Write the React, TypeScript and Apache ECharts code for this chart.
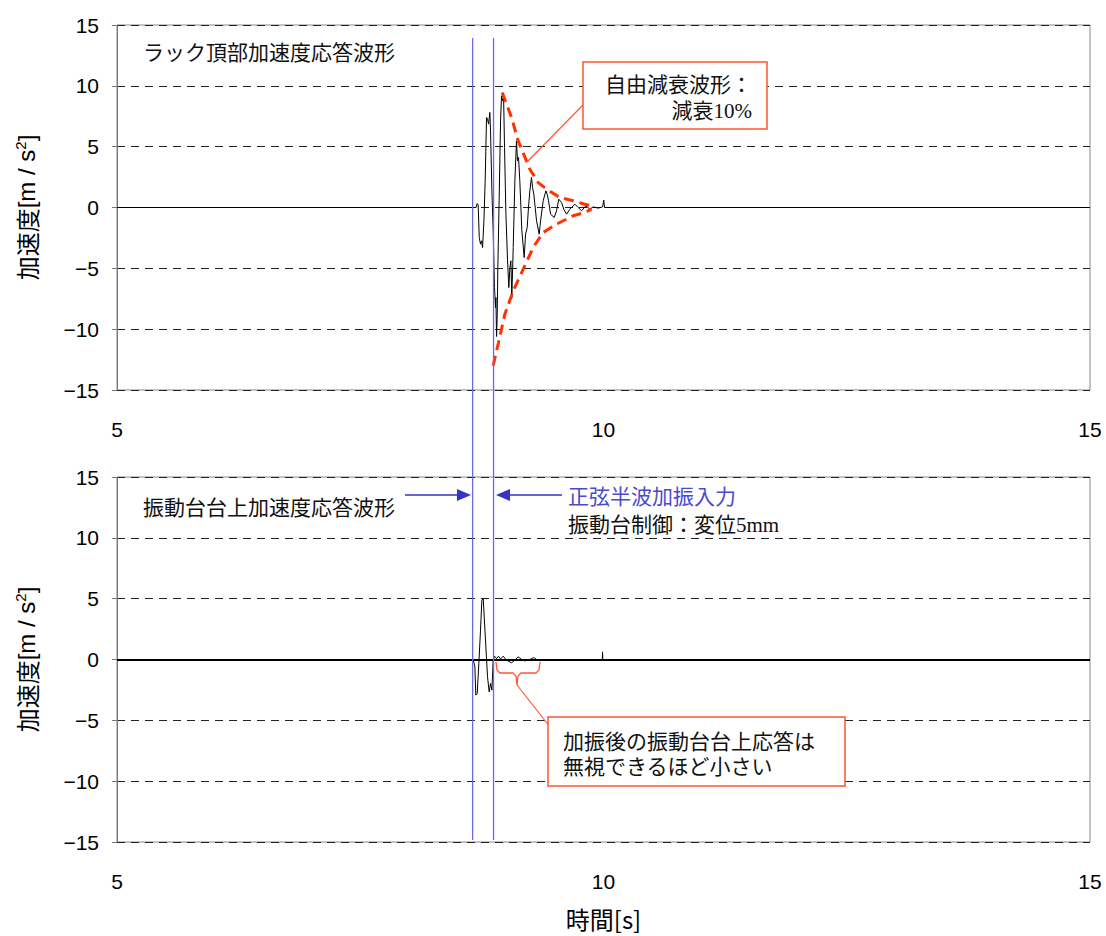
import React, { useEffect, useRef } from "react";
import * as echarts from "echarts";

// ---- data (time [s], acceleration [m/s^2]) ----
const xTicks = [5, 10, 15];
const yTicks = [-15, -10, -5, 0, 5, 10, 15];

const topWave: number[][] = [
  [5, 0], [8.69, 0], [8.702, 0.33], [8.712, 0.22], [8.723, -2.47], [8.736, -3.01], [8.747, -2.74],
  [8.757, -3.29], [8.771, -1.1], [8.784, 2.19], [8.798, 7.4], [8.808, 7.26], [8.819, 6.85],
  [8.832, 7.81], [8.839, 6.3], [8.853, 1.37], [8.866, -1.92], [8.88, -6.58], [8.89, -8.22],
  [8.894, -7.4], [8.901, -10.6], [8.908, -8.77], [8.914, -4.93], [8.928, 0.82], [8.942, 7.12],
  [8.952, 9.18], [8.962, 8.77], [8.973, 9.18], [8.983, 4.93], [8.997, -0.55], [9.014, -4.38],
  [9.027, -6.58], [9.038, -4.93], [9.048, -4.38], [9.058, -7.4], [9.072, -3.29], [9.089, 2.19],
  [9.106, 5.48], [9.116, 3.84], [9.127, 4.11], [9.14, 2.19], [9.161, -1.92], [9.185, -4.11],
  [9.199, -2.19], [9.216, -1.64], [9.229, 0], [9.243, 1.37], [9.26, 2.47], [9.271, 1.64],
  [9.284, 1.1], [9.312, -1.1], [9.339, -2.19], [9.353, -1.1], [9.38, 0.55], [9.408, 1.37],
  [9.421, 1.1], [9.435, 0.55], [9.456, -0.55], [9.493, -0.82], [9.517, -0.27], [9.541, 0.68],
  [9.569, 0.41], [9.592, -0.14], [9.62, -0.55], [9.654, -0.14], [9.706, 0.27], [9.74, 0],
  [9.774, -0.27], [9.819, 0.14], [9.86, -0.14], [9.894, 0.05], [9.945, -0.05], [9.99, 0.05],
  [10.003, 0.6], [10.01, 0], [15, 0],
];

const upperEnvelope: number[][] = [
  [8.959, 9.45], [9.055, 7.4], [9.123, 5.48], [9.243, 3.15], [9.329, 2.05], [9.414, 1.51],
  [9.551, 0.82], [9.688, 0.55], [9.808, 0.27], [9.877, 0.14],
];

const lowerEnvelope: number[][] = [
  [8.866, -13.0], [8.918, -11.2], [8.986, -8.77], [9.072, -6.85], [9.175, -5.07], [9.277, -3.29],
  [9.38, -2.05], [9.517, -1.37], [9.688, -0.68], [9.808, -0.41], [9.877, -0.14],
];

const bottomWave: number[][] = [
  [5, 0], [8.661, 0], [8.678, -0.6], [8.688, -2.93], [8.702, -2.79], [8.719, -0.33], [8.736, 2.41],
  [8.75, 4.88], [8.764, 5.01], [8.774, 3.51], [8.791, 1.04], [8.808, -1.42], [8.825, -2.66],
  [8.839, -1.97], [8.853, -2.52], [8.866, -0.05], [8.88, 0.27], [8.901, 0.08], [8.921, 0.27],
  [8.942, 0.05], [8.969, 0.27], [9.003, -0.05], [9.055, -0.27], [9.089, -0.05], [9.123, 0.22],
  [9.158, 0], [9.192, -0.11], [9.243, 0], [9.284, 0.16], [9.319, -0.05], [9.346, 0],
  [9.988, 0], [9.99, 0.63], [9.993, 0], [15, 0],
];

// excitation window (sine half-wave input)
const excitationWindow = [8.655, 8.87];

const topTitle = "ラック頂部加速度応答波形";
const bottomTitle = "振動台台上加速度応答波形";
const calloutTop = ["自由減衰波形：", "減衰10%"];
const inputLabel = "正弦半波加振入力";
const controlLabel = "振動台制御：変位5mm";
const calloutBottom = ["加振後の振動台台上応答は", "無視できるほど小さい"];
const xName = "時間[s]";

const numFont = "'Liberation Sans', Arial, sans-serif";
const jpFont = "'Noto Sans CJK JP', sans-serif";
const serifJp = "'Liberation Serif', 'Noto Sans CJK JP', serif";
const RED = "#ff3300";
const BOX_RED = "#ff5533";
const BLUE_LINE = "#6b6bdf";
const BLUE = "#3434c8";

function makeXAxis(gridIndex: number, withName: boolean) {
  return {
    type: "value",
    gridIndex,
    min: xTicks[0],
    max: xTicks[xTicks.length - 1],
    interval: 5,
    axisLine: { show: false },
    axisTick: { show: false },
    splitLine: { show: false },
    axisLabel: { fontSize: 21, color: "#000", fontFamily: numFont, margin: 29 },
    name: withName ? xName : "",
    nameLocation: "middle",
    nameGap: 64,
    nameTextStyle: { fontSize: 24, fontFamily: jpFont, color: "#000" },
  };
}

function makeYAxis(gridIndex: number) {
  return {
    type: "value",
    gridIndex,
    min: yTicks[0],
    max: yTicks[yTicks.length - 1],
    interval: 5,
    axisLine: { show: true, onZero: false, lineStyle: { color: "#777", width: 1 } },
    axisTick: { show: true, length: 5, lineStyle: { color: "#777" } },
    splitLine: { show: true, lineStyle: { color: "#222", width: 1, type: [8, 6] } },
    axisLabel: {
      fontSize: 21,
      color: "#000",
      fontFamily: numFont,
      margin: 18,
      formatter: (v: number) => String(v).replace("-", "−"),
    },
    name: "{a|加速度}{b|[m / s}{s|2}{b|]}",
    nameLocation: "middle",
    nameGap: 77,
    nameRotate: 90,
    nameTextStyle: {
      rich: {
        a: { fontSize: 24, fontFamily: jpFont, color: "#000" },
        b: { fontSize: 24, fontFamily: numFont, color: "#000" },
        s: { fontSize: 15, fontFamily: numFont, color: "#000", padding: [0, 0, 12, 0] },
      },
    },
  };
}

export default function App() {
  const ref = useRef<HTMLDivElement>(null);

  useEffect(() => {
    document.body.style.margin = "0";
    if (!ref.current) return;
    const chart = echarts.init(ref.current, undefined, { renderer: "svg" });

    const option: any = {
      animation: false,
      backgroundColor: "#fff",
      grid: [
        { left: 117, top: 25, width: 973, height: 365, show: true, borderColor: "#888", borderWidth: 1 },
        { left: 117, top: 477, width: 973, height: 365, show: true, borderColor: "#888", borderWidth: 1 },
      ],
      xAxis: [makeXAxis(0, false), makeXAxis(1, true)],
      yAxis: [makeYAxis(0), makeYAxis(1)],
      series: [
        {
          type: "line",
          xAxisIndex: 0,
          yAxisIndex: 0,
          data: topWave,
          showSymbol: false,
          lineStyle: { color: "#000", width: 1 },
          z: 3,
        },
        {
          type: "line",
          xAxisIndex: 0,
          yAxisIndex: 0,
          data: upperEnvelope,
          showSymbol: false,
          lineStyle: { color: RED, width: 3, type: [10, 6] },
          z: 4,
        },
        {
          type: "line",
          xAxisIndex: 0,
          yAxisIndex: 0,
          data: lowerEnvelope,
          showSymbol: false,
          lineStyle: { color: RED, width: 3, type: [10, 6] },
          z: 4,
        },
        {
          type: "line",
          xAxisIndex: 1,
          yAxisIndex: 1,
          data: bottomWave,
          showSymbol: false,
          lineStyle: { color: "#000", width: 1 },
          z: 3,
          markLine: {
            silent: true,
            symbol: "none",
            label: { show: false },
            lineStyle: { color: "#000", width: 2, type: "solid" },
            data: [{ yAxis: 0 }],
          },
        },
      ],
    };
    chart.setOption(option);

    const xa = chart.convertToPixel({ xAxisIndex: 0 }, excitationWindow[0]) as number;
    const xb = chart.convertToPixel({ xAxisIndex: 0 }, excitationWindow[1]) as number;

    const txt = (text: string, x: number, y: number, opts: any = {}) => ({
      type: "text",
      z: 20,
      style: {
        text,
        x,
        y,
        fill: opts.fill || "#111",
        fontSize: opts.fontSize || 21,
        fontFamily: opts.fontFamily || serifJp,
        align: opts.align || "left",
        verticalAlign: "middle",
      },
    });

    chart.setOption({
      graphic: [
        // excitation window lines
        { type: "line", z: 15, shape: { x1: xa, y1: 38, x2: xa, y2: 840 }, style: { stroke: BLUE_LINE, lineWidth: 1.3 } },
        { type: "line", z: 15, shape: { x1: xb, y1: 38, x2: xb, y2: 840 }, style: { stroke: BLUE_LINE, lineWidth: 1.3 } },
        // titles
        txt(topTitle, 143, 53),
        txt(bottomTitle, 143, 508),
        // top callout
        { type: "line", z: 18, shape: { x1: 583, y1: 105, x2: 527, y2: 162 }, style: { stroke: BOX_RED, lineWidth: 1.2 } },
        { type: "rect", z: 19, shape: { x: 583, y: 62, width: 184, height: 67 }, style: { fill: "#fff", stroke: BOX_RED, lineWidth: 1.5 } },
        txt(calloutTop[0], 752, 85, { align: "right" }),
        txt(calloutTop[1], 752, 111, { align: "right" }),
        // arrows
        { type: "line", z: 18, shape: { x1: 405, y1: 495, x2: 460, y2: 495 }, style: { stroke: BLUE, lineWidth: 1.3 } },
        { type: "polygon", z: 18, shape: { points: [[471, 495], [457, 489], [457, 501]] }, style: { fill: BLUE } },
        { type: "line", z: 18, shape: { x1: 506, y1: 495, x2: 562, y2: 495 }, style: { stroke: BLUE, lineWidth: 1.3 } },
        { type: "polygon", z: 18, shape: { points: [[496, 495], [510, 489], [510, 501]] }, style: { fill: BLUE } },
        txt(inputLabel, 568, 497, { fill: "#4a4ad0" }),
        txt(controlLabel, 568, 525),
        // bracket in bottom plot
        {
          type: "polyline",
          z: 18,
          shape: {
            points: [[496, 662], [497, 670], [500, 673], [513, 673], [516, 676], [517, 685], [518, 676], [521, 673], [536, 673], [539, 670], [540, 662]],
          },
          style: { stroke: BOX_RED, lineWidth: 1.3, fill: "none" },
        },
        { type: "line", z: 18, shape: { x1: 517, y1: 685, x2: 550, y2: 727 }, style: { stroke: BOX_RED, lineWidth: 1.2 } },
        { type: "rect", z: 19, shape: { x: 548, y: 717, width: 297, height: 69 }, style: { fill: "#fff", stroke: BOX_RED, lineWidth: 1.5 } },
        txt(calloutBottom[0], 563, 742),
        txt(calloutBottom[1], 563, 767),
      ],
    });

    return () => chart.dispose();
  }, []);

  return <div ref={ref} style={{ width: 1106, height: 936 }} />;
}
